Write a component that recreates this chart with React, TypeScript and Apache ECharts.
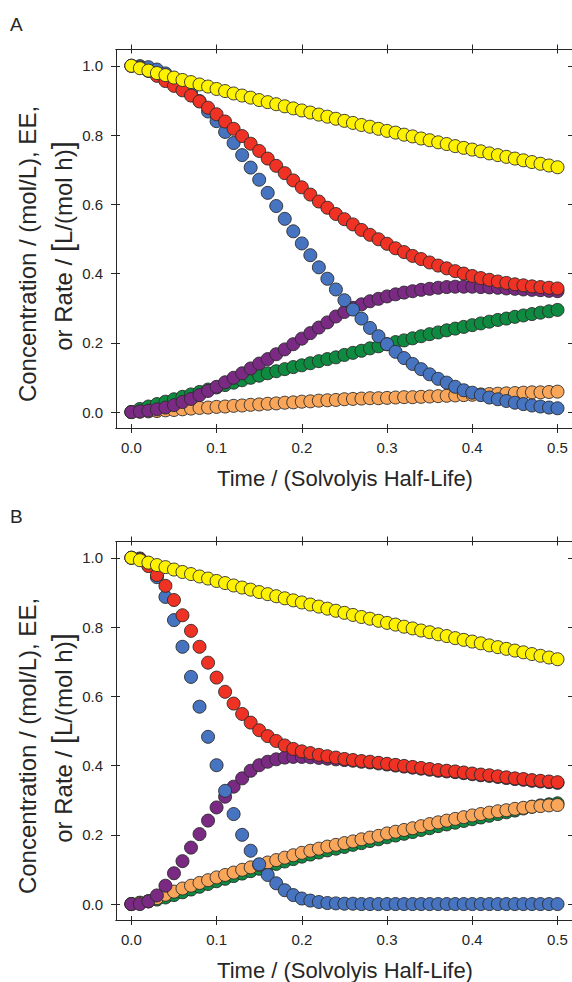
import React, { useEffect, useRef } from "react";
import * as echarts from "echarts";

// Time / (Solvolysis half-life)
const T = [0.00,0.01,0.02,0.03,0.04,0.05,0.06,0.07,0.08,0.09,0.10,0.11,0.12,0.13,0.14,0.15,0.16,0.17,0.18,0.19,0.20,0.21,0.22,0.23,0.24,0.25,0.26,0.27,0.28,0.29,0.30,0.31,0.32,0.33,0.34,0.35,0.36,0.37,0.38,0.39,0.40,0.41,0.42,0.43,0.44,0.45,0.46,0.47,0.48,0.49,0.50];

const X_TICKS = [0, 0.1, 0.2, 0.3, 0.4, 0.5];
const Y_TICKS = [0, 0.2, 0.4, 0.6, 0.8, 1.0];

// Panel A
const yellowA = [1.000,0.993,0.986,0.979,0.973,0.966,0.959,0.953,0.946,0.940,0.933,0.927,0.920,0.914,0.908,0.901,0.895,0.889,0.883,0.877,0.871,0.865,0.859,0.853,0.847,0.841,0.835,0.829,0.824,0.818,0.812,0.807,0.801,0.796,0.790,0.785,0.779,0.774,0.768,0.763,0.758,0.753,0.747,0.742,0.737,0.732,0.727,0.722,0.717,0.712,0.707];
const redA = [1.000,0.995,0.985,0.971,0.956,0.942,0.929,0.914,0.897,0.879,0.860,0.839,0.818,0.797,0.775,0.754,0.732,0.711,0.690,0.669,0.649,0.628,0.608,0.590,0.572,0.557,0.542,0.526,0.512,0.499,0.486,0.473,0.462,0.451,0.442,0.432,0.423,0.415,0.407,0.400,0.393,0.387,0.382,0.377,0.373,0.369,0.366,0.363,0.361,0.359,0.357];
const blueA = [1.000,0.999,0.996,0.989,0.978,0.964,0.947,0.925,0.898,0.868,0.840,0.809,0.777,0.742,0.706,0.671,0.633,0.595,0.558,0.522,0.487,0.453,0.418,0.385,0.354,0.323,0.296,0.270,0.243,0.219,0.196,0.174,0.156,0.139,0.124,0.109,0.096,0.085,0.073,0.063,0.056,0.049,0.042,0.037,0.032,0.027,0.023,0.019,0.016,0.013,0.011];
const purpleA = [0.000,0.002,0.004,0.008,0.013,0.020,0.029,0.038,0.049,0.061,0.073,0.086,0.099,0.112,0.126,0.140,0.153,0.167,0.181,0.196,0.212,0.228,0.244,0.259,0.276,0.289,0.301,0.311,0.320,0.327,0.334,0.340,0.345,0.349,0.353,0.356,0.359,0.361,0.362,0.362,0.362,0.361,0.360,0.359,0.357,0.356,0.354,0.353,0.352,0.350,0.349];
const greenA = [0.000,0.009,0.016,0.023,0.030,0.037,0.044,0.051,0.058,0.065,0.071,0.078,0.085,0.092,0.099,0.105,0.112,0.118,0.124,0.130,0.135,0.141,0.147,0.153,0.158,0.165,0.171,0.177,0.184,0.190,0.196,0.202,0.207,0.213,0.219,0.225,0.230,0.236,0.241,0.246,0.251,0.256,0.261,0.266,0.270,0.275,0.279,0.283,0.287,0.291,0.295];
const orangeA = [0.000,0.001,0.002,0.003,0.005,0.006,0.008,0.010,0.012,0.013,0.015,0.016,0.018,0.019,0.021,0.022,0.024,0.025,0.027,0.028,0.030,0.031,0.033,0.034,0.035,0.037,0.038,0.039,0.040,0.040,0.041,0.042,0.043,0.043,0.044,0.045,0.046,0.047,0.048,0.049,0.050,0.051,0.052,0.053,0.054,0.055,0.056,0.057,0.057,0.058,0.059];

// Panel B
const yellowB = [1.000,0.993,0.986,0.979,0.973,0.966,0.959,0.953,0.946,0.940,0.933,0.927,0.920,0.914,0.908,0.901,0.895,0.889,0.883,0.877,0.871,0.865,0.859,0.853,0.847,0.841,0.835,0.829,0.824,0.818,0.812,0.807,0.801,0.796,0.790,0.785,0.779,0.774,0.768,0.763,0.758,0.753,0.747,0.742,0.737,0.732,0.727,0.722,0.717,0.712,0.707];
const redB = [1.000,0.996,0.976,0.950,0.919,0.878,0.834,0.789,0.743,0.697,0.654,0.613,0.579,0.549,0.524,0.502,0.485,0.471,0.458,0.448,0.441,0.436,0.431,0.427,0.423,0.419,0.416,0.413,0.411,0.408,0.405,0.402,0.399,0.396,0.393,0.390,0.387,0.385,0.383,0.380,0.377,0.374,0.372,0.369,0.366,0.363,0.361,0.358,0.356,0.354,0.352];
const blueB = [1.000,0.998,0.978,0.944,0.887,0.820,0.743,0.656,0.570,0.483,0.401,0.327,0.260,0.200,0.154,0.115,0.084,0.060,0.040,0.026,0.016,0.010,0.006,0.003,0.002,0.001,0.001,0.000,0.000,0.000,0.000,0.000,0.000,0.000,0.000,0.000,0.000,0.000,0.000,0.000,0.000,0.000,0.000,0.000,0.000,0.000,0.000,0.000,0.000,0.000,0.000];
const purpleB = [0.000,0.000,0.008,0.025,0.053,0.089,0.124,0.163,0.202,0.241,0.279,0.310,0.339,0.363,0.385,0.401,0.411,0.418,0.423,0.425,0.425,0.424,0.422,0.420,0.418,0.416,0.414,0.411,0.409,0.406,0.403,0.400,0.397,0.394,0.391,0.388,0.385,0.383,0.381,0.378,0.375,0.372,0.370,0.367,0.364,0.361,0.359,0.356,0.354,0.352,0.350];
const greenB = [0.000,0.004,0.008,0.013,0.019,0.026,0.034,0.042,0.050,0.058,0.066,0.073,0.081,0.088,0.095,0.102,0.109,0.116,0.123,0.130,0.137,0.143,0.149,0.155,0.160,0.165,0.171,0.176,0.182,0.187,0.193,0.198,0.203,0.208,0.214,0.219,0.225,0.230,0.235,0.240,0.245,0.250,0.255,0.260,0.265,0.270,0.276,0.281,0.285,0.288,0.291];
const orangeB = [0.000,0.003,0.008,0.017,0.027,0.036,0.045,0.053,0.061,0.069,0.077,0.084,0.091,0.099,0.106,0.113,0.120,0.127,0.134,0.141,0.148,0.154,0.160,0.166,0.171,0.176,0.181,0.187,0.192,0.197,0.204,0.209,0.214,0.219,0.225,0.231,0.236,0.241,0.246,0.251,0.256,0.260,0.264,0.268,0.271,0.275,0.278,0.281,0.283,0.285,0.286];

const COLORS = {
  green: "#0f8a41",
  orange: "#f9a65a",
  purple: "#7a2a83",
  blue: "#4674c1",
  red: "#ef3224",
  yellow: "#fff200",
};

const FONT = "'Liberation Sans', Arial, Helvetica, sans-serif";
const INK = "#262626";

const GRID_LEFT = 116;
const GRID_W = 458;
const GRID_H = 378.5;
const GRID_TOPS = [49.5, 541.5];

export default function App() {
  const ref = useRef<HTMLDivElement>(null);

  useEffect(() => {
    if (!ref.current) return;
    const chart = echarts.init(ref.current, null, { renderer: "svg" });

    const panels = [
      { green: greenA, orange: orangeA, purple: purpleA, blue: blueA, red: redA, yellow: yellowA },
      { green: greenB, orange: orangeB, purple: purpleB, blue: blueB, red: redB, yellow: yellowB },
    ];

    const grid: any[] = [];
    const xAxis: any[] = [];
    const yAxis: any[] = [];
    const series: any[] = [];

    panels.forEach((p, gi) => {
      grid.push({ left: GRID_LEFT, top: GRID_TOPS[gi], width: GRID_W, height: GRID_H });
      const xBase = xAxis.length;
      const yBase = yAxis.length;
      const mkX = (position: string, inside: boolean, labels: boolean) => ({
        type: "value",
        gridIndex: gi,
        position,
        min: -0.018,
        max: 0.517,
        axisLine: { show: true, onZero: false, lineStyle: { color: INK, width: 1 } },
        axisTick: { show: true, inside, length: inside ? 4 : 5, lineStyle: { color: INK, width: 1 }, customValues: X_TICKS },
        axisLabel: labels
          ? { show: true, customValues: X_TICKS, margin: 12, fontSize: 15, color: INK, fontFamily: FONT, formatter: (v: number) => v.toFixed(1) }
          : { show: false },
        splitLine: { show: false },
      });
      const mkY = (position: string, inside: boolean, labels: boolean) => ({
        type: "value",
        gridIndex: gi,
        position,
        min: -0.046,
        max: 1.047,
        axisLine: { show: true, onZero: false, lineStyle: { color: INK, width: 1 } },
        axisTick: { show: true, inside, length: inside ? 4 : 5, lineStyle: { color: INK, width: 1 }, customValues: Y_TICKS },
        axisLabel: labels
          ? { show: true, customValues: Y_TICKS, margin: 13, fontSize: 15, color: INK, fontFamily: FONT, formatter: (v: number) => v.toFixed(1) }
          : { show: false },
        splitLine: { show: false },
      });
      xAxis.push(mkX("bottom", false, true), mkX("bottom", true, false), mkX("top", false, false), mkX("top", true, false));
      yAxis.push(mkY("left", false, true), mkY("left", true, false), mkY("right", false, false), mkY("right", true, false));

      const order: (keyof typeof COLORS)[] = ["green", "orange", "purple", "blue", "red", "yellow"];
      order.forEach((k) => {
        const vals = (p as any)[k] as number[];
        series.push({
          type: "scatter",
          name: k + (gi === 0 ? "A" : "B"),
          xAxisIndex: xBase,
          yAxisIndex: yBase,
          symbol: "circle",
          symbolSize: 13,
          itemStyle: { color: COLORS[k], borderColor: "#2a2a2a", borderWidth: 0.9, opacity: 1 },
          emphasis: { disabled: true },
          data: T.map((t, i) => [t, vals[i]]),
        });
      });
    });

    const graphic: any[] = [];
    const yTitleStyle = { fill: INK, fontSize: 24, fontFamily: FONT };
    ["A", "B"].forEach((lab, gi) => {
      const off = GRID_TOPS[gi] - GRID_TOPS[0];
      graphic.push({
        type: "text",
        x: 10,
        y: 24 + off,
        style: { text: lab, fill: INK, fontSize: 19, fontFamily: FONT, verticalAlign: "middle" },
      });
      graphic.push({
        type: "text",
        x: 345,
        y: 478 + off,
        style: { fill: INK, fontSize: 22, fontFamily: FONT, text: "Time / (Solvolyis Half-Life)", align: "center", verticalAlign: "middle" },
      });
      graphic.push({
        type: "text",
        x: 27,
        y: 254 + off,
        rotation: Math.PI / 2,
        style: { ...yTitleStyle, text: "Concentration / (mol/L), EE,", align: "center", verticalAlign: "middle" },
      });
      graphic.push({
        type: "text",
        x: 63,
        y: 246 + off,
        rotation: Math.PI / 2,
        style: {
          ...yTitleStyle,
          text: "or Rate / {b|[}L/(mol h){b|]}",
          align: "center",
          verticalAlign: "middle",
          rich: { b: { fontSize: 29, fontFamily: FONT, fill: INK, verticalAlign: "middle" } },
        },
      });
    });

    chart.setOption({
      animation: false,
      backgroundColor: "#ffffff",
      grid,
      xAxis,
      yAxis,
      series,
      graphic,
    });

    return () => chart.dispose();
  }, []);

  return (
    <div
      ref={ref}
      style={{ position: "absolute", left: 0, top: 0, width: 572, height: 982 }}
    />
  );
}
